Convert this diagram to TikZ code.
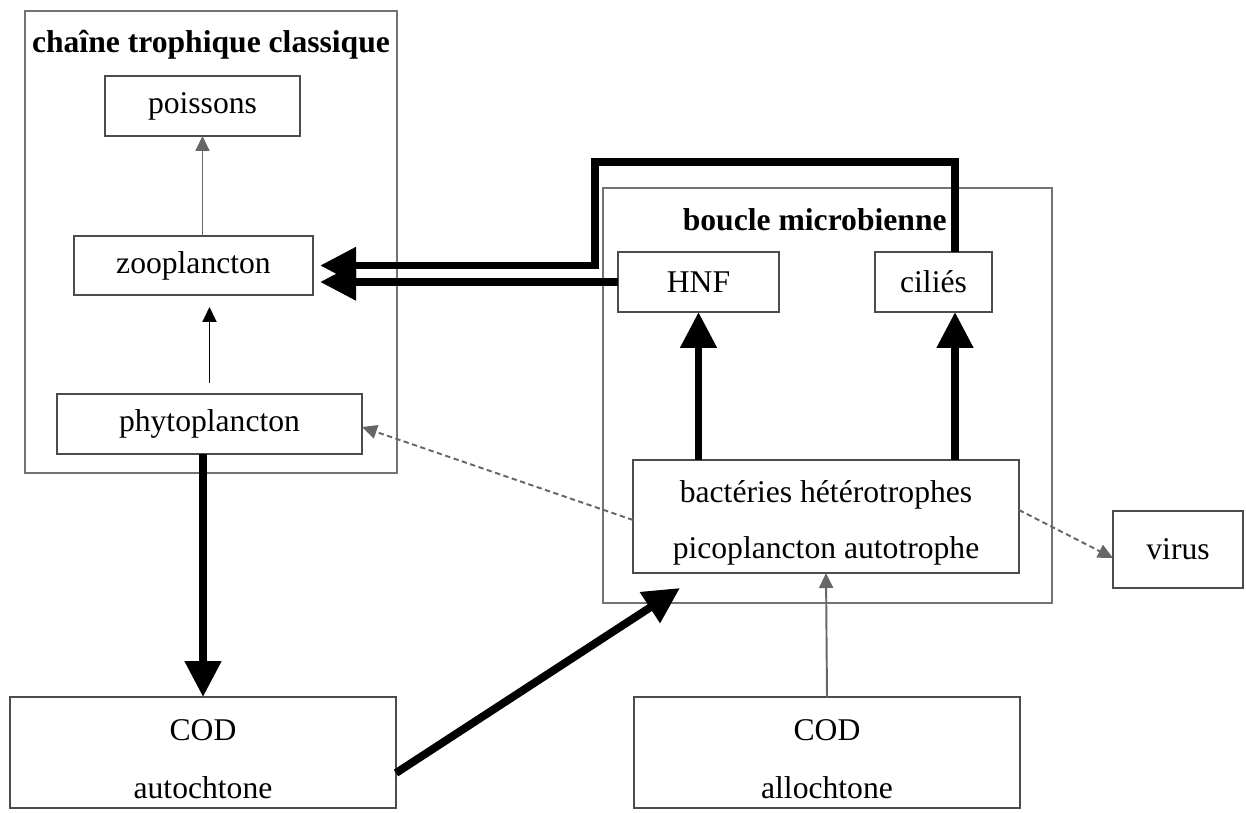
\documentclass[tikz,border=0pt]{standalone}
\usepackage{fontspec}
\setmainfont{Liberation Serif}
\usetikzlibrary{arrows.meta}

\definecolor{framegray}{gray}{0.45}
\definecolor{boxgray}{gray}{0.3}
\definecolor{linegray}{gray}{0.4}

\begin{document}
\begin{tikzpicture}[%
    x=0.02cm,
    y=-0.02cm,
    every node/.style={
      font=\fontsize{18}{22}\selectfont
    },
    frame/.style={
      rectangle,
      draw=framegray,
      line width=1.3pt,
      inner sep=0pt,
      outer sep=0pt
    },
    title/.style={
      font=\fontsize{18}{22}\selectfont\bfseries,
      inner sep=0pt
    },
    block/.style={
      rectangle,
      draw=boxgray,
      line width=1.1pt,
      fill=white,
      align=center,
      outer sep=0pt,
      minimum height=1.2cm
    },
    block2/.style={
      block,
      font=\fontsize{18}{33}\selectfont
    },
    line/.style={
      draw=linegray,
      line width=1.1pt,
      -{Triangle[width=0.28cm,length=0.3cm]}
    },
    dotline/.style={
      line,
      densely dashed
    },
    fatline/.style={
      draw=black,
      line width=4.5pt,
      -{Triangle[width=0.7cm,length=0.72cm]}
    }
  ]
    \useasboundingbox (0,0) rectangle (1246,812);

    % the two frames
    \draw (211,242) node[frame, minimum width=7.44cm, minimum height=9.24cm] (chaine) {};
    \draw (827.5,395.5) node[frame, minimum width=8.98cm, minimum height=8.3cm] (boucle) {};
    \draw (211,45) node[title] (chainetitle) {chaîne trophique classique};
    \draw (947,220) node[title, anchor=east] (boucletitle) {boucle microbienne};

    % classic chain
    \draw (202.5,106) node[block, minimum width=3.9cm] (poissons) {poissons};
    \draw (193.5,265.5) node[block, minimum width=4.78cm, minimum height=1.18cm] (zoo) {zooplancton};
    \draw (209.5,424) node[block, minimum width=6.1cm] (phyto) {phytoplancton};

    % microbial loop
    \draw (698.5,282) node[block, minimum width=3.22cm] (hnf) {HNF};
    \draw (933.5,282) node[block, minimum width=2.34cm] (cilies) {ciliés};
    \draw (826,516.5) node[block, minimum width=7.72cm, minimum height=2.26cm,
      font=\fontsize{18}{32}\selectfont] (bact) {\rule{0pt}{20pt}bactéries hétérotrophes\\picoplancton autotrophe};
    \draw (1178,549.5) node[block, minimum width=2.6cm, minimum height=1.54cm] (virus) {virus};

    % dissolved organic carbon
    \draw (203,752.5) node[block2, minimum width=7.72cm, minimum height=2.22cm] (codauto) {\rule{0pt}{19pt}COD\\autochtone};
    \draw (827,752.5) node[block2, minimum width=7.72cm, minimum height=2.22cm] (codallo) {\rule{0pt}{19pt}COD\\allochtone};

    \coordinate (topleft) at (595,162);
    \coordinate (ciltop) at ([xshift=0.43cm]cilies.north);
    \coordinate (inflow) at (680,588);

    % thin arrows
    \draw[line] (zoo.north -| poissons.south) -- (poissons.south);
    \draw[line, draw=black, shorten <=0.22cm, shorten >=0.24cm] (phyto.north) -- (phyto.north |- zoo.south);
    \draw[dotline] ([yshift=-0.07cm]bact.west) -- ([yshift=-0.06cm]phyto.east);
    \draw[dotline] ([yshift=0.13cm]bact.east) -- ([yshift=-0.17cm]virus.west);
    \draw[line] (codallo.north) -- (bact.south);

    % fat arrows
    \draw[fatline, shorten >=4pt] (hnf.west) -- (hnf.west -| zoo.east);
    \draw[fatline, shorten >=4pt] (ciltop) |- (topleft) |- (zoo.east);
    \draw[fatline] (bact.north -| hnf.south) -- (hnf.south);
    \draw[fatline] (bact.north -| ciltop) -- (cilies.south -| ciltop);
    \draw[fatline] (phyto.south -| codauto.north) -- (codauto.north);
    \draw[fatline] ([yshift=-0.41cm]codauto.east) -- (inflow);

  \end{tikzpicture}
\end{document}
